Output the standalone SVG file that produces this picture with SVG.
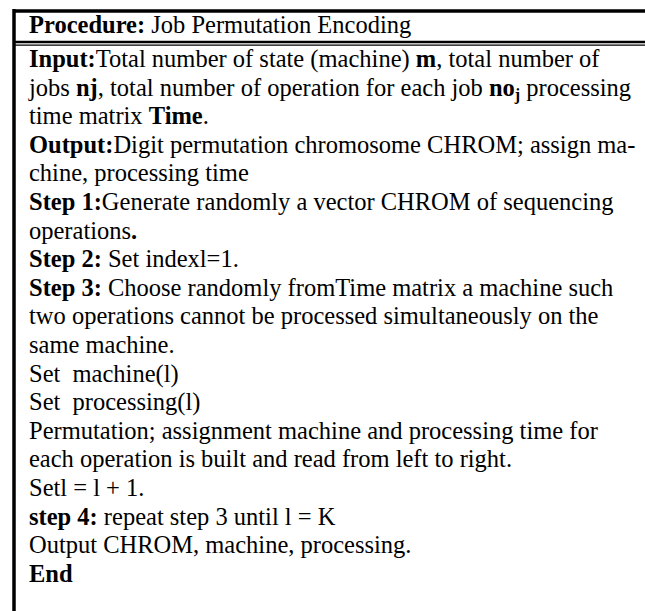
<svg xmlns="http://www.w3.org/2000/svg" width="645" height="611" viewBox="0 0 645 611">
<style>
text{font-family:"Liberation Serif","Times New Roman",serif;font-size:24.5px;fill:#000;white-space:pre}
.b{font-weight:bold}
.rule{stroke:#000;fill:none}
</style>
<rect width="645" height="611" fill="#fff"/>
<g id="frame">
<line class="rule" x1="14" y1="11" x2="645" y2="11" stroke-width="3.5"/>
<line class="rule" x1="14" y1="9" x2="14" y2="611" stroke-width="3.5"/>
<line class="rule" x1="14" y1="42" x2="645" y2="42" stroke-width="2.6"/>
<line class="rule" x1="14" y1="45.2" x2="645" y2="45.2" stroke-width="1.3"/>
</g>
<g id="title">
<text x="29" y="33"><tspan class="b">Procedure:</tspan> Job Permutation Encoding</text>
</g>
<g id="body">
<text x="29" y="67"><tspan class="b">Input:</tspan>Total number of state (machine) <tspan class="b">m</tspan>, total number of</text>
<text x="29" y="95.6">jobs <tspan class="b">nj</tspan>, total number of operation for each job <tspan class="b">no</tspan><tspan class="b" font-size="16" dy="4">j</tspan><tspan dy="-4"> processing</tspan></text>
<text x="29" y="124.2">time matrix <tspan class="b">Time</tspan>.</text>
<text x="29" y="152.8"><tspan class="b">Output:</tspan>Digit permutation chromosome CHROM; assign ma-</text>
<text x="29" y="181.4">chine, processing time</text>
<text x="29" y="210"><tspan class="b">Step 1:</tspan>Generate randomly a vector CHROM of sequencing</text>
<text x="29" y="238.6">operations<tspan class="b">.</tspan></text>
<text x="29" y="267.2"><tspan class="b">Step 2:</tspan> Set indexl=1.</text>
<text x="29" y="295.8"><tspan class="b">Step 3:</tspan> Choose randomly fromTime matrix a machine such</text>
<text x="29" y="324.4">two operations cannot be processed simultaneously on the</text>
<text x="29" y="353">same machine.</text>
<text x="29" y="381.6">Set  machine(l)</text>
<text x="29" y="410.2">Set  processing(l)</text>
<text x="29" y="438.8">Permutation; assignment machine and processing time for</text>
<text x="29" y="467.4">each operation is built and read from left to right.</text>
<text x="29" y="496">Setl = l + 1.</text>
<text x="29" y="524.6"><tspan class="b">step 4:</tspan> repeat step 3 until l = K</text>
<text x="29" y="553.2">Output CHROM, machine, processing.</text>
<text x="29" y="581.8" class="b">End</text>
</g>
</svg>
